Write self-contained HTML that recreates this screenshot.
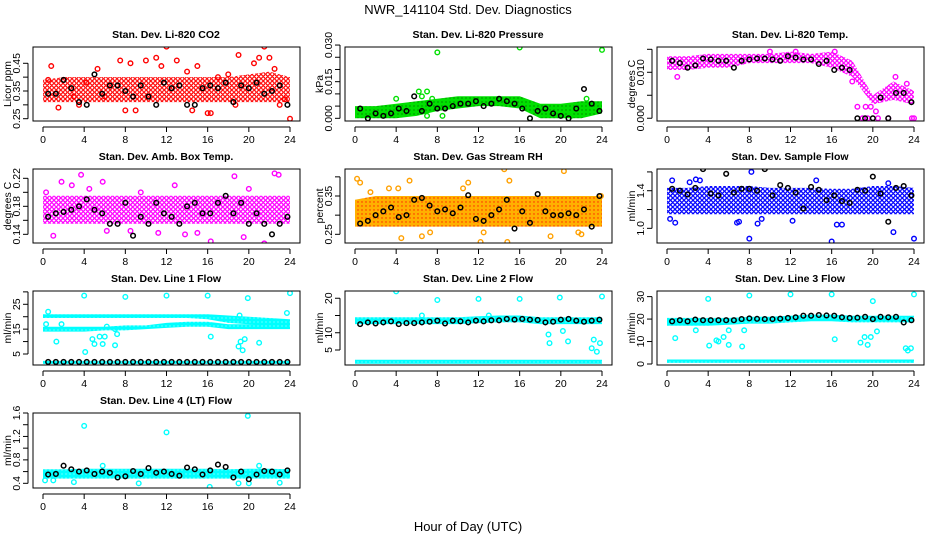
<!DOCTYPE html>
<html><head><meta charset="utf-8"><style>
html,body{margin:0;padding:0;background:#fff}
svg{display:block;font-family:"Liberation Sans",sans-serif}
</style></head><body>
<svg id="chart" width="936" height="540" viewBox="0 0 936 540">
<defs>
<pattern id="pr" width="4.5" height="4.5" patternUnits="userSpaceOnUse"><circle cx="2.25" cy="2.25" r="1.7" fill="none" stroke="#ff0000" stroke-width="1.1"/></pattern>
<pattern id="pg" width="4" height="4" patternUnits="userSpaceOnUse"><rect width="4" height="4" fill="#00e000"/><circle cx="2" cy="2" r="0.6" fill="#006000"/></pattern>
<pattern id="pm" width="4.5" height="4.5" patternUnits="userSpaceOnUse"><circle cx="2.25" cy="2.25" r="1.7" fill="none" stroke="#ff00ff" stroke-width="1.2"/></pattern>
<pattern id="po" width="4" height="4" patternUnits="userSpaceOnUse"><rect width="4" height="4" fill="#ffb000"/><circle cx="2" cy="2" r="0.7" fill="#ff2000"/></pattern>
<pattern id="pb" width="4.5" height="4.5" patternUnits="userSpaceOnUse"><circle cx="2.25" cy="2.25" r="1.7" fill="none" stroke="#0000ff" stroke-width="1.2"/></pattern>
<pattern id="pc" width="4" height="4" patternUnits="userSpaceOnUse"><rect width="4" height="4" fill="#00ffff"/><circle cx="2" cy="2" r="0.5" fill="#fff"/></pattern>
</defs>
<text x="468" y="14" text-anchor="middle" font-size="13">NWR_141104  Std. Dev. Diagnostics</text>
<text x="468" y="531" text-anchor="middle" font-size="13">Hour of Day (UTC)</text>
</svg>
<script>
const blackH=[0.5,1.25,2,2.75,3.5,4.25,5,5.75,6.5,7.25,8,8.75,9.5,10.25,11,11.75,12.5,13.25,14,14.75,15.5,16.25,17,17.75,18.5,19.25,20,20.75,21.5,22.25,23,23.75];
const xTicks=[0,4,8,12,16,20,24];
const bandH=[0,2,4,6,8,10,12,14,16,18,20,22,24];

const titles=["Stan. Dev. Li-820 CO2","Stan. Dev. Li-820 Pressure","Stan. Dev. Li-820 Temp.","Stan. Dev. Amb. Box Temp.","Stan. Dev. Gas Stream RH","Stan. Dev. Sample Flow","Stan. Dev. Line 1 Flow","Stan. Dev. Line 2 Flow","Stan. Dev. Line 3 Flow","Stan. Dev. Line 4 (LT) Flow"];
const yTitles=["Licor ppm","kPa","degrees C","degrees C","percent","ml/min","ml/min","ml/min","ml/min","ml/min"];

const yTicks1=[0.25,0.30,0.35,0.40,0.45], yLab1=["0.25","","0.35","","0.45"];
const yTicks2=[0,0.005,0.010,0.015,0.020,0.025,0.030], yLab2=["0.000","","","0.015","","","0.030"];
const yTicks3=[0,0.005,0.010,0.015], yLab3=["0.000","","0.010",""];
const yTicks4=[0.14,0.16,0.18,0.20,0.22], yLab4=["0.14","","0.18","","0.22"];
const yTicks5=[0.25,0.30,0.35,0.40], yLab5=["0.25","","0.35",""];
const yTicks6=[1.0,1.2,1.4,1.6], yLab6=["1.0","","1.4",""];
const yTicks7=[5,10,15,20,25,30], yLab7=["5","","15","","25",""];
const yTicks8=[5,10,15,20], yLab8=["5","10","","20"];
const yTicks9=[0,10,20,30], yLab9=["0","10","20","30"];
const yTicks10=[0.4,0.6,0.8,1.0,1.2,1.4,1.6], yLab10=["0.4","","0.8","","1.2","","1.6"];

const black1=[0.34,0.34,0.39,0.36,0.31,0.30,0.41,0.34,0.37,0.37,0.35,0.33,0.37,0.33,0.30,0.38,0.36,0.37,0.30,0.30,0.36,0.37,0.36,0.38,0.31,0.37,0.36,0.38,0.34,0.35,0.37,0.30];
const black2=[0.004,0.0,0.002,0.001,0.002,0.004,0.003,0.009,0.003,0.006,0.004,0.004,0.005,0.006,0.006,0.007,0.005,0.006,0.008,0.007,0.006,0.004,0.000,0.003,0.004,0.002,0.001,0.000,0.004,0.012,0.006,0.003];
const black3=[0.0125,0.012,0.011,0.0115,0.013,0.0128,0.0125,0.0125,0.011,0.0125,0.0128,0.013,0.013,0.0128,0.0125,0.0135,0.0132,0.0128,0.0128,0.0118,0.0125,0.0105,0.011,0.0105,0,0,0,0.0045,0,0.0055,0.0055,0.0035];
const black4=[0.165,0.17,0.172,0.175,0.18,0.19,0.175,0.17,0.155,0.155,0.185,0.138,0.165,0.155,0.185,0.17,0.165,0.155,0.18,0.185,0.17,0.17,0.185,0.195,0.17,0.185,0.155,0.17,0.155,0.14,0.155,0.165];
const black5=[0.278,0.285,0.30,0.31,0.32,0.295,0.30,0.34,0.345,0.325,0.31,0.315,0.305,0.32,0.352,0.29,0.285,0.30,0.315,0.34,0.265,0.31,0.28,0.355,0.31,0.30,0.30,0.305,0.30,0.315,0.27,0.35];
const black6=[1.42,1.40,1.36,1.43,1.63,1.37,1.35,1.58,1.38,1.42,1.42,1.40,1.63,1.35,1.46,1.43,1.38,1.21,1.44,1.41,1.30,1.35,1.29,1.27,1.41,1.40,1.55,1.37,1.07,1.43,1.45,1.35];
const black7=[1.8,1.8,1.8,1.8,1.8,1.8,1.8,1.8,1.8,1.8,1.8,1.8,1.8,1.8,1.8,1.8,1.8,1.8,1.8,1.8,1.8,1.8,1.8,1.8,1.8,1.8,1.8,1.8,1.8,1.8,1.8,1.8];
const black8=[12.5,13,12.7,13,13.3,12.5,12.8,12.8,13,13.2,13.5,12.7,13.5,13.3,13.0,13.5,13.3,13.6,13.6,14,13.8,14,13.8,13.7,13,13.2,13.8,14,13.5,13.2,13.5,13.8];
const black9=[19,19.5,19,19.8,19.5,19.5,19.5,19.5,19.5,20,20.3,20.1,20,20,20.2,20.5,20.8,21.5,21.5,21.8,21.6,21.5,20.8,20.5,20.6,21,20,21,20.8,21,18.5,19.5];
const black10=[0.55,0.56,0.70,0.64,0.6,0.62,0.56,0.6,0.58,0.5,0.52,0.61,0.56,0.66,0.58,0.6,0.56,0.53,0.67,0.64,0.55,0.62,0.72,0.68,0.5,0.6,0.47,0.55,0.61,0.6,0.55,0.62];

const bandLo1=[0.31,0.31,0.31,0.31,0.31,0.31,0.31,0.31,0.31,0.31,0.31,0.31,0.31], bandHi1=[0.39,0.40,0.40,0.40,0.40,0.40,0.40,0.40,0.40,0.40,0.41,0.42,0.40];
const bandLo2=[0,0,0,0.001,0.003,0.004,0.005,0.005,0.004,0,0,0,0.002], bandHi2=[0.005,0.005,0.006,0.007,0.008,0.009,0.009,0.009,0.009,0.006,0.006,0.007,0.007];
const bandLo3=[0.0105,0.0105,0.011,0.011,0.012,0.012,0.012,0.012,0.011,0.009,0.003,0.004,0.003], bandHi3=[0.0135,0.0135,0.014,0.014,0.014,0.014,0.0145,0.014,0.0145,0.0125,0.005,0.008,0.006];
const bandLo4=[0.155,0.155,0.155,0.155,0.155,0.155,0.155,0.155,0.155,0.155,0.155,0.155,0.155], bandHi4=[0.195,0.195,0.195,0.195,0.195,0.195,0.195,0.195,0.195,0.195,0.195,0.195,0.195];
const bandLo5=[0.27,0.27,0.27,0.27,0.27,0.27,0.27,0.27,0.27,0.27,0.27,0.27,0.27], bandHi5=[0.34,0.35,0.35,0.35,0.35,0.35,0.35,0.35,0.35,0.35,0.35,0.35,0.35];
const bandLo6=[1.15,1.15,1.15,1.15,1.15,1.15,1.15,1.15,1.15,1.15,1.15,1.15,1.15], bandHi6=[1.43,1.43,1.45,1.45,1.45,1.43,1.43,1.43,1.42,1.42,1.45,1.45,1.43];
const bandLo7=[19.5,19.5,19.5,19.5,19.5,19.5,19.5,19.5,19,17.5,17,16.5,16], bandHi7=[21,21,21,21,21,21,21,21,21,20.5,20,19.5,19];
const bandLo7b=[14,14,14,14.5,14.5,15,15.5,16,16,15,15,15,15], bandHi7b=[16,16,16,16,16.5,16.5,17.5,18,18,17,17,17,17];
const bandLo7c=[1,1,1,1,1,1,1,1,1,1,1,1,1], bandHi7c=[2.2,2.2,2.2,2.2,2.2,2.2,2.2,2.2,2.2,2.2,2.2,2.2,2.2];
const bandLo8=[12.5,12.5,12.5,12.5,12.5,12.5,12.8,13,13,12.5,12.5,12.5,12.5], bandHi8=[14.5,14.5,14.5,14.5,14.5,14.5,14.8,15,15,14.5,14.5,14.5,14.5];
const bandLo8b=[1,1,1,1,1,1,1,1,1,1,1,1,1], bandHi8b=[2.2,2.2,2.2,2.2,2.2,2.2,2.2,2.2,2.2,2.2,2.2,2.2,2.2];
const bandLo9=[17,17,17,17.5,18,18,18.5,19,19,18.5,18.5,18.5,18.5], bandHi9=[20.5,20.5,20.5,20.5,21,21,21.5,22,22,21.5,21.5,21.5,21.5];
const bandLo9b=[0.5,0.5,0.5,0.5,0.5,0.5,0.5,0.5,0.5,0.5,0.5,0.5,0.5], bandHi9b=[2,2,2,2,2,2,2,2,2,2,2,2,2];
const bandLo10=[0.48,0.48,0.48,0.48,0.48,0.48,0.48,0.48,0.48,0.48,0.48,0.48,0.48], bandHi10=[0.64,0.64,0.65,0.65,0.65,0.65,0.65,0.65,0.65,0.64,0.65,0.65,0.64];

const outH1=[0.5,0.8,1.5,2,3,4.2,5.3,6,7.5,8,8.5,10,11,11.5,12,13,14,15,16,16.3,17,18,19,20.5,21,21.5,22,22.5,23.5,24,14.5,3.5,9,18.7,23];
const outV1=[0.39,0.44,0.29,0.39,0.33,0.38,0.43,0.33,0.46,0.28,0.45,0.46,0.47,0.44,0.51,0.46,0.42,0.44,0.27,0.27,0.40,0.41,0.48,0.45,0.47,0.51,0.47,0.43,0.32,0.25,0.28,0.30,0.28,0.30,0.30];
const outH2=[8,16,24,4,6.2,6.5,7,7.5,8.5,7,17,21,22.5];
const outV2=[0.027,0.029,0.028,0.008,0.011,0.009,0.011,0.008,0.001,0.001,0.0,0.001,0.008];
const outH3=[1,16.3,18,18.5,19,19.5,20.5,21.5,23.8,20.3,19.3,22.2,23.3,12.5,10,19.8,24];
const outV3=[0.009,0.0145,0.008,0.0025,0,0,0,0,0,0.0015,0.0025,0.009,0.0075,0.0145,0.0145,0.0025,0];
const outH4=[0.3,1.8,2.8,3.7,4.5,5.8,1,6.2,8.5,11.2,13.8,15,16.3,18.6,19.5,20,21.5,22.5,22.9,12.8,9.5];
const outV4=[0.20,0.215,0.21,0.225,0.205,0.215,0.138,0.145,0.145,0.142,0.14,0.142,0.13,0.223,0.136,0.205,0.127,0.227,0.225,0.21,0.2];
const outH5=[0.2,0.5,3.3,4.2,5.3,6.5,7.3,4.5,12.2,12.5,14.5,14.8,15,19,20.3,21.7,22,1.5,10.5,11,23.9];
const outV5=[0.395,0.385,0.37,0.37,0.39,0.245,0.255,0.24,0.23,0.255,0.42,0.23,0.39,0.245,0.415,0.255,0.25,0.36,0.37,0.385,0.35];
const outH6=[0.3,0.5,0.8,2.2,2.8,3.2,6.8,7,8,8.2,8.8,9.2,12.2,16,16.5,17,22,24,14.5,21.5];
const outV6=[1.1,1.51,1.06,1.49,1.52,1.51,1.06,1.07,0.89,1.6,1.05,1.1,1.08,0.86,1.04,1.04,0.96,0.89,1.51,1.48];
const outH7=[0.3,0.5,1.3,4,4.1,4.8,5,5.5,5.8,6,6.2,7,7.2,8,12,16,16.3,19,19.2,19.4,19.6,19.9,19.1,21,23.7,24,1.8,7];
const outV7=[17,22,10,28.5,5.8,11,9,12,9,12,16,8.5,13,28,28.5,28.5,12,8,10,6.5,11,27.5,20.5,9.5,21.5,29.5,17,15];
const outH8=[4,8,12,16,19.9,24,18.8,18.9,20.2,20.7,23,23.2,23.5,23.8,6.5,13];
const outV8=[22,19.5,19.8,19.8,20.2,20.5,9.5,7,10.5,7.5,5.5,8,4.5,7,15,15];
const outH9=[0.8,4,4.1,4.8,5,5.5,6,6,7.3,7.5,8,12,16,16.3,18.8,19.2,19.5,19.8,20,20.4,23.2,23.4,23.7,24,2.8];
const outV9=[11.5,29,8.2,10.5,10,12,8.5,15,7.8,15,30.5,31,31,11,9.5,12,8.5,12,28,14.5,7,6,7,31,15];
const outH10=[4,12,19.9,0.2,1,3,9.3,16.2,19,20,23,5.8,21];
const outV10=[1.38,1.27,1.55,0.45,0.45,0.42,0.4,0.34,0.4,0.4,0.41,0.7,0.7];

const panels=[
 {col:0,row:0,ylo:0.2417,yhi:0.5088,ticks:yTicks1,labs:yLab1,black:black1,bands:[[bandLo1,bandHi1]],oh:outH1,ov:outV1,color:"#ff0000",pat:"pr"},
 {col:1,row:0,ylo:-0.0011,yhi:0.0292,ticks:yTicks2,labs:yLab2,black:black2,bands:[[bandLo2,bandHi2]],oh:outH2,ov:outV2,color:"#00e000",pat:"pg"},
 {col:2,row:0,ylo:-0.0006,yhi:0.0155,ticks:yTicks3,labs:yLab3,black:black3,bands:[[bandLo3,bandHi3]],oh:outH3,ov:outV3,color:"#ff00ff",pat:"pm"},
 {col:0,row:1,ylo:0.1276,yhi:0.2333,ticks:yTicks4,labs:yLab4,black:black4,bands:[[bandLo4,bandHi4]],oh:outH4,ov:outV4,color:"#ff00ff",pat:"pm"},
 {col:1,row:1,ylo:0.2273,yhi:0.4205,ticks:yTicks5,labs:yLab5,black:black5,bands:[[bandLo5,bandHi5]],oh:outH5,ov:outV5,color:"#ffa000",pat:"po"},
 {col:2,row:1,ylo:0.844,yhi:1.631,ticks:yTicks6,labs:yLab6,black:black6,bands:[[bandLo6,bandHi6]],oh:outH6,ov:outV6,color:"#0000ff",pat:"pb"},
 {col:0,row:2,ylo:0.57,yhi:30.35,ticks:yTicks7,labs:yLab7,black:black7,bands:[[bandLo7,bandHi7],[bandLo7b,bandHi7b],[bandLo7c,bandHi7c]],oh:outH7,ov:outV7,color:"#00ffff",pat:"pc"},
 {col:1,row:2,ylo:0.65,yhi:22.1,ticks:yTicks8,labs:yLab8,black:black8,bands:[[bandLo8,bandHi8],[bandLo8b,bandHi8b]],oh:outH8,ov:outV8,color:"#00ffff",pat:"pc"},
 {col:2,row:2,ylo:-0.45,yhi:32.5,ticks:yTicks9,labs:yLab9,black:black9,bands:[[bandLo9,bandHi9],[bandLo9b,bandHi9b]],oh:outH9,ov:outV9,color:"#00ffff",pat:"pc"},
 {col:0,row:3,ylo:0.32,yhi:1.6,ticks:yTicks10,labs:yLab10,black:black10,bands:[[bandLo10,bandHi10]],oh:outH10,ov:outV10,color:"#00ffff",pat:"pc"}
];
const rowTop=[47,169,291,413], rowBot=[121,243,365,488];
const NS="http://www.w3.org/2000/svg";
const svg=document.getElementById('chart');
function mk(tag,attrs,parent){const e=document.createElementNS(NS,tag);for(const k in attrs)e.setAttribute(k,attrs[k]);(parent||svg).appendChild(e);return e;}

panels.forEach((p,i)=>{
  const cx=p.col*312, top=rowTop[p.row], bot=rowBot[p.row];
  const xs=h=>cx+43+h*(247/24);
  const ys=v=>bot-(v-p.ylo)/(p.yhi-p.ylo)*(bot-top);
  const g=mk('g',{});
  
  
  const clipId='clip'+i;
  const cp=mk('clipPath',{id:clipId},g);
  mk('rect',{x:cx+33,y:top,width:267,height:bot-top},cp);
  const t=mk('text',{x:cx+166,y:top-9,'text-anchor':'middle','font-size':'10.5','font-weight':'bold'},g);
  t.textContent=titles[i];
  
  
  const yt=mk('text',{transform:`translate(${cx+11},${(top+bot)/2}) rotate(-90)`,'text-anchor':'middle','font-size':'10.5'},g);
  yt.textContent=yTitles[i];
  
  
  const plot=mk('g',{'clip-path':`url(#${clipId})`},g);
  p.bands.forEach(b=>{
    let d='';
    bandH.forEach((h,k)=>{d+=(k?'L':'M')+xs(h).toFixed(1)+','+ys(b[1][k]).toFixed(1);});
    for(let k=bandH.length-1;k>=0;k--)d+='L'+xs(bandH[k]).toFixed(1)+','+ys(b[0][k]).toFixed(1);
    const pe=mk('path',{d:d+'Z',fill:`url(#${p.pat})`,stroke:'none'},plot);
    
    
  });
  p.oh.forEach((h,k)=>{
    const c=mk('circle',{cx:xs(h),cy:ys(p.ov[k]),r:2.3,fill:'none',stroke:p.color,'stroke-width':'1.4'},plot);
    
    
  });
  blackH.forEach((h,k)=>{
    const c=mk('circle',{cx:xs(h),cy:ys(p.black[k]),r:2.3,fill:'none',stroke:'#000','stroke-width':'1.5'},plot);
    
    
  });
  const box=mk('rect',{x:cx+33,y:top,width:267,height:bot-top,fill:'none',stroke:'#000','stroke-width':'1'},g);
  
  
  const ay=bot+6;
  mk('line',{x1:xs(0),x2:xs(24),y1:ay,y2:ay,stroke:'#000'},g);
  xTicks.forEach(h=>{
    mk('line',{x1:xs(h),x2:xs(h),y1:ay,y2:ay+5,stroke:'#000'},g);
    const lt=mk('text',{x:xs(h),y:ay+16,'text-anchor':'middle','font-size':'10.5'},g);
    lt.textContent=h;
    
    
  });
  const ax=cx+28;
  mk('line',{x1:ax,x2:ax,y1:ys(p.ticks[0]),y2:ys(p.ticks[p.ticks.length-1]),stroke:'#000'},g);
  p.ticks.forEach((v,k)=>{
    mk('line',{x1:ax-5,x2:ax,y1:ys(v),y2:ys(v),stroke:'#000'},g);
    if(p.labs[k]){
      const lt=mk('text',{transform:`translate(${ax-8},${ys(v)}) rotate(-90)`,'text-anchor':'middle','font-size':'10.5'},g);
      lt.textContent=p.labs[k];
      
      
    }
  });
});
</script>
</body></html>
